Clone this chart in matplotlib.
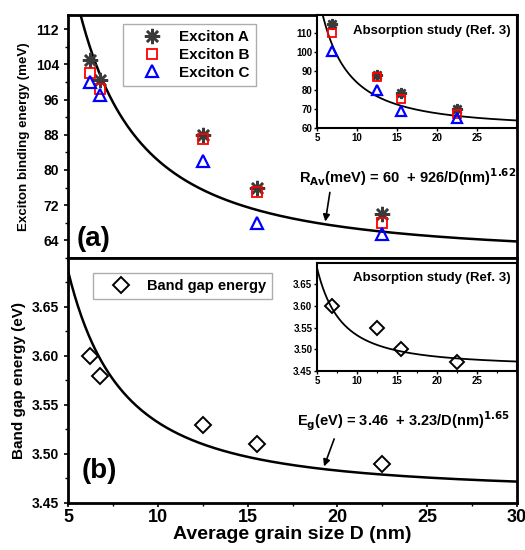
import numpy as np
import matplotlib.pyplot as plt

plt.rcParams['font.family'] = ['Liberation Sans', 'DejaVu Sans']
plt.rcParams['font.weight'] = 'bold'

# main data (grain size in nm)
D = [6.2, 6.8, 12.5, 15.5, 22.5]
exc_a = [105, 100.5, 88, 76, 70]
exc_b = [102, 98.5, 87, 75, 68]
exc_c = [100, 97, 82, 68, 65.5]
band_gap = [3.60, 3.58, 3.53, 3.51, 3.49]

# absorption study (Ref. 3)
D_ref = [6.8, 12.5, 15.5, 22.5]
ref_a = [115, 88, 78.5, 70]
ref_b = [110, 87, 75.5, 67.5]
ref_c = [100.5, 80, 69, 65.5]
ref_gap = [3.60, 3.55, 3.50, 3.47]

# fit parameters
ex_fit = (60, 926, 1.62)
ex_fit_ref = (60, 1000, 1.62)
gap_fit = (3.46, 3.23, 1.65)


def fit(d, p):
    return p[0] + p[1] / d ** p[2]


fig = plt.figure(figsize=(5.25, 5.5), dpi=100)
ax1 = fig.add_axes([0.1295, 0.531, 0.8555, 0.4417])
ax2 = fig.add_axes([0.1295, 0.0855, 0.8555, 0.4455])
in1 = fig.add_axes([0.604, 0.767, 0.381, 0.2057])
in2 = fig.add_axes([0.604, 0.3255, 0.381, 0.197])

d = np.linspace(5, 30, 400)
ka = dict(marker=(8, 2, 0), color='#3a3a3a', ls='none', mew=1.8)
kb = dict(marker='s', mfc='none', mec='red', ls='none', mew=1.3)
kc = dict(marker='^', mfc='none', mec='blue', ls='none', mew=1.6)
kd = dict(marker='D', mfc='none', mec='black', ls='none', mew=1.4)

# (a) exciton panel
ax1.plot(d, fit(d, ex_fit), color='black', lw=1.8)
ax1.plot(D, exc_a, ms=11, label='Exciton A', **ka)
ax1.plot(D, exc_b, ms=7, label='Exciton B', **kb)
ax1.plot(D, exc_c, ms=9, label='Exciton C', **kc)
ax1.set_xlim(5, 30)
ax1.set_ylim(60.4, 115.2)
ax1.set_yticks([64, 72, 80, 88, 96, 104, 112])
ax1.set_yticks(np.arange(60, 116, 4), minor=True)
ax1.set_xticks([5, 10, 15, 20, 25, 30])
ax1.tick_params(axis='x', labelbottom=False)
ax1.set_ylabel('Exciton binding energy (meV)', fontsize=9.6, fontweight='bold')
ax1.legend(loc='upper left', bbox_to_anchor=(0.122, 0.963), borderaxespad=0,
           fancybox=False, edgecolor='#999999', handlelength=3.0,
           handletextpad=0.3, labelspacing=0.25,
           prop={'weight': 'bold', 'size': 11})
ax1.text(0.02, 0.05, '(a)', transform=ax1.transAxes, fontsize=20, fontweight='bold')
ax1.text(23.9, 78.4, r'R$_{\mathbf{Av}}$(meV) = 60  + 926/D(nm)$^{\mathbf{1.62}}$',
         fontsize=10.5, fontweight='bold', ha='center', va='center')
ax1.annotate('', xy=(19.3, fit(19.3, ex_fit)), xytext=(19.6, 75.5),
             arrowprops=dict(arrowstyle='-|>', color='black', lw=1.2))

# (b) band gap panel
ax2.plot(d, fit(d, gap_fit), color='black', lw=1.8)
ax2.plot(D, band_gap, ms=8, label='Band gap energy', **kd)
ax2.set_xlim(5, 30)
ax2.set_ylim(3.45, 3.70)
ax2.set_yticks([3.45, 3.50, 3.55, 3.60, 3.65])
ax2.set_yticks(np.arange(3.45, 3.70, 0.025), minor=True)
ax2.set_xticks([5, 10, 15, 20, 25, 30])
ax2.set_xticks(np.arange(5, 31, 2.5), minor=True)
ax2.set_xlabel('Average grain size D (nm)', fontsize=14, fontweight='bold', labelpad=0)
ax2.set_ylabel('Band gap energy (eV)', fontsize=11, fontweight='bold')
ax2.legend(loc='upper left', bbox_to_anchor=(0.056, 0.939), borderaxespad=0,
           fancybox=False, edgecolor='#999999', handlelength=3.0,
           handletextpad=0.3, prop={'weight': 'bold', 'size': 10.5})
ax2.text(0.03, 0.1, '(b)', transform=ax2.transAxes, fontsize=20, fontweight='bold')
ax2.text(23.65, 3.533, r'E$_{\mathbf{g}}$(eV) = 3.46  + 3.23/D(nm)$^{\mathbf{1.65}}$',
         fontsize=10.5, fontweight='bold', ha='center', va='center')
ax2.annotate('', xy=(19.2, fit(19.2, gap_fit)), xytext=(19.87, 3.518),
             arrowprops=dict(arrowstyle='-|>', color='black', lw=1.2))

# insets
in1.plot(d, fit(d, ex_fit_ref), color='black', lw=1.3)
in1.plot(D_ref, ref_a, ms=8, **ka)
in1.plot(D_ref, ref_b, ms=6, **kb)
in1.plot(D_ref, ref_c, ms=7, **kc)
in1.set_xlim(5, 30)
in1.set_ylim(60, 119.6)
in1.set_xticks([5, 10, 15, 20, 25])
in1.set_yticks([60, 70, 80, 90, 100, 110])
in1.text(0.97, 0.86, 'Absorption study (Ref. 3)', transform=in1.transAxes,
         ha='right', va='center', fontsize=9.5, fontweight='bold')

in2.plot(d, fit(d, gap_fit), color='black', lw=1.3)
in2.plot(D_ref, ref_gap, ms=7, **kd)
in2.set_xlim(5, 30)
in2.set_ylim(3.45, 3.70)
in2.set_xticks([5, 10, 15, 20, 25])
in2.set_xticks(np.arange(5, 30, 2.5), minor=True)
in2.set_yticks([3.45, 3.50, 3.55, 3.60, 3.65])
in2.text(0.97, 0.86, 'Absorption study (Ref. 3)', transform=in2.transAxes,
         ha='right', va='center', fontsize=9.5, fontweight='bold')

for ax in (ax1, ax2):
    for s in ax.spines.values():
        s.set_linewidth(2)
    ax.tick_params(which='major', direction='out', length=3, width=1.2, labelsize=10)
    ax.tick_params(which='minor', direction='out', length=2, width=1)
    for lab in ax.get_xticklabels() + ax.get_yticklabels():
        lab.set_fontweight('bold')
ax2.tick_params(axis='x', labelsize=13, pad=1)
ax2.yaxis.set_major_formatter(plt.FormatStrFormatter('%.2f'))

for ax in (in1, in2):
    for s in ax.spines.values():
        s.set_linewidth(1.5)
    ax.tick_params(which='major', direction='out', length=2.5, width=1, labelsize=7, pad=1)
    ax.tick_params(which='minor', direction='out', length=1.5, width=0.8)
    for lab in ax.get_xticklabels() + ax.get_yticklabels():
        lab.set_fontweight('bold')
in2.yaxis.set_major_formatter(plt.FormatStrFormatter('%.2f'))

fig.savefig('out.png', dpi=100)
